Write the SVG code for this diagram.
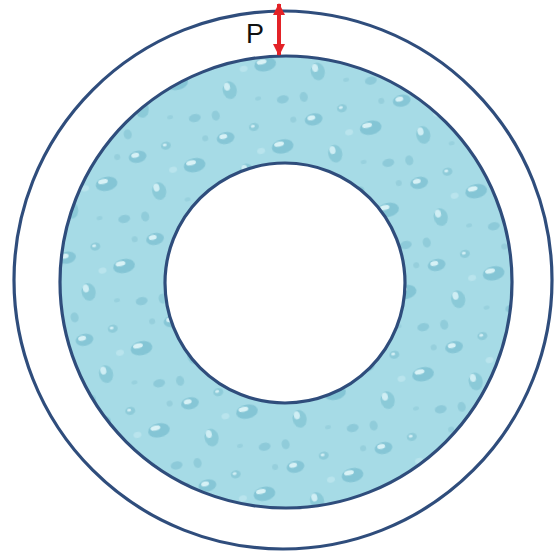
<svg xmlns="http://www.w3.org/2000/svg" width="556" height="554" viewBox="0 0 556 554">
  <style>
    .ring { stroke: #2f4d7c; stroke-width: 3.2; }
    .lbl { font-family: "Liberation Sans", Arial, sans-serif; font-size: 27px; fill: #111; }
  </style>
  <defs>
    <pattern id="drops" width="90" height="84" patternUnits="userSpaceOnUse" patternTransform="rotate(-12)">
      <rect width="90" height="84" fill="#a6dbe6"/>
      <ellipse cx="12" cy="14" rx="9" ry="6" fill="#86c6d6"/>
      <ellipse cx="10" cy="12" rx="4" ry="2.5" fill="#d6f1f6"/>
      <ellipse cx="42" cy="9" rx="5" ry="4" fill="#8ecbd9"/>
      <ellipse cx="41" cy="8" rx="2" ry="1.5" fill="#d2eff5"/>
      <ellipse cx="66" cy="34" rx="11" ry="7" fill="#84c5d5"/>
      <ellipse cx="63" cy="31" rx="5" ry="2.5" fill="#d8f2f6"/>
      <ellipse cx="26" cy="52" rx="7" ry="9" fill="#8bcad8"/>
      <ellipse cx="24" cy="48" rx="3" ry="4" fill="#cfeef4"/>
      <ellipse cx="76" cy="72" rx="6" ry="4" fill="#8dcad9"/>
      <ellipse cx="44" cy="34" rx="4" ry="3" fill="#b9e4ed"/>
      <ellipse cx="7" cy="74" rx="4" ry="5" fill="#90ccda"/>
      <ellipse cx="52" cy="66" rx="3" ry="2" fill="#98d1de"/>
      <ellipse cx="82" cy="10" rx="3" ry="3" fill="#96cfdc"/>
    </pattern>
    <marker id="ah" viewBox="0 0 12 12" refX="11" refY="6" markerWidth="12" markerHeight="13" markerUnits="userSpaceOnUse" orient="auto-start-reverse">
      <path d="M0,0 L12,6 L0,12 z" fill="#e32227"/>
    </marker>
  </defs>
  <rect width="556" height="554" fill="#ffffff"/>
  <g id="outer">
    <circle cx="283" cy="280" r="269" fill="#ffffff" class="ring"/>
  </g>
  <g id="middle">
    <circle cx="286" cy="282" r="226" fill="url(#drops)" class="ring"/>
  </g>
  <g id="inner">
    <circle cx="285" cy="283" r="120" fill="#ffffff" class="ring"/>
  </g>
  <g id="connectors">
    <line x1="279" y1="4" x2="279" y2="55" stroke="#e32227" stroke-width="4" marker-start="url(#ah)" marker-end="url(#ah)"/>
  </g>
  <g id="label-p">
    <text class="lbl" x="246" y="43">P</text>
  </g>
</svg>
